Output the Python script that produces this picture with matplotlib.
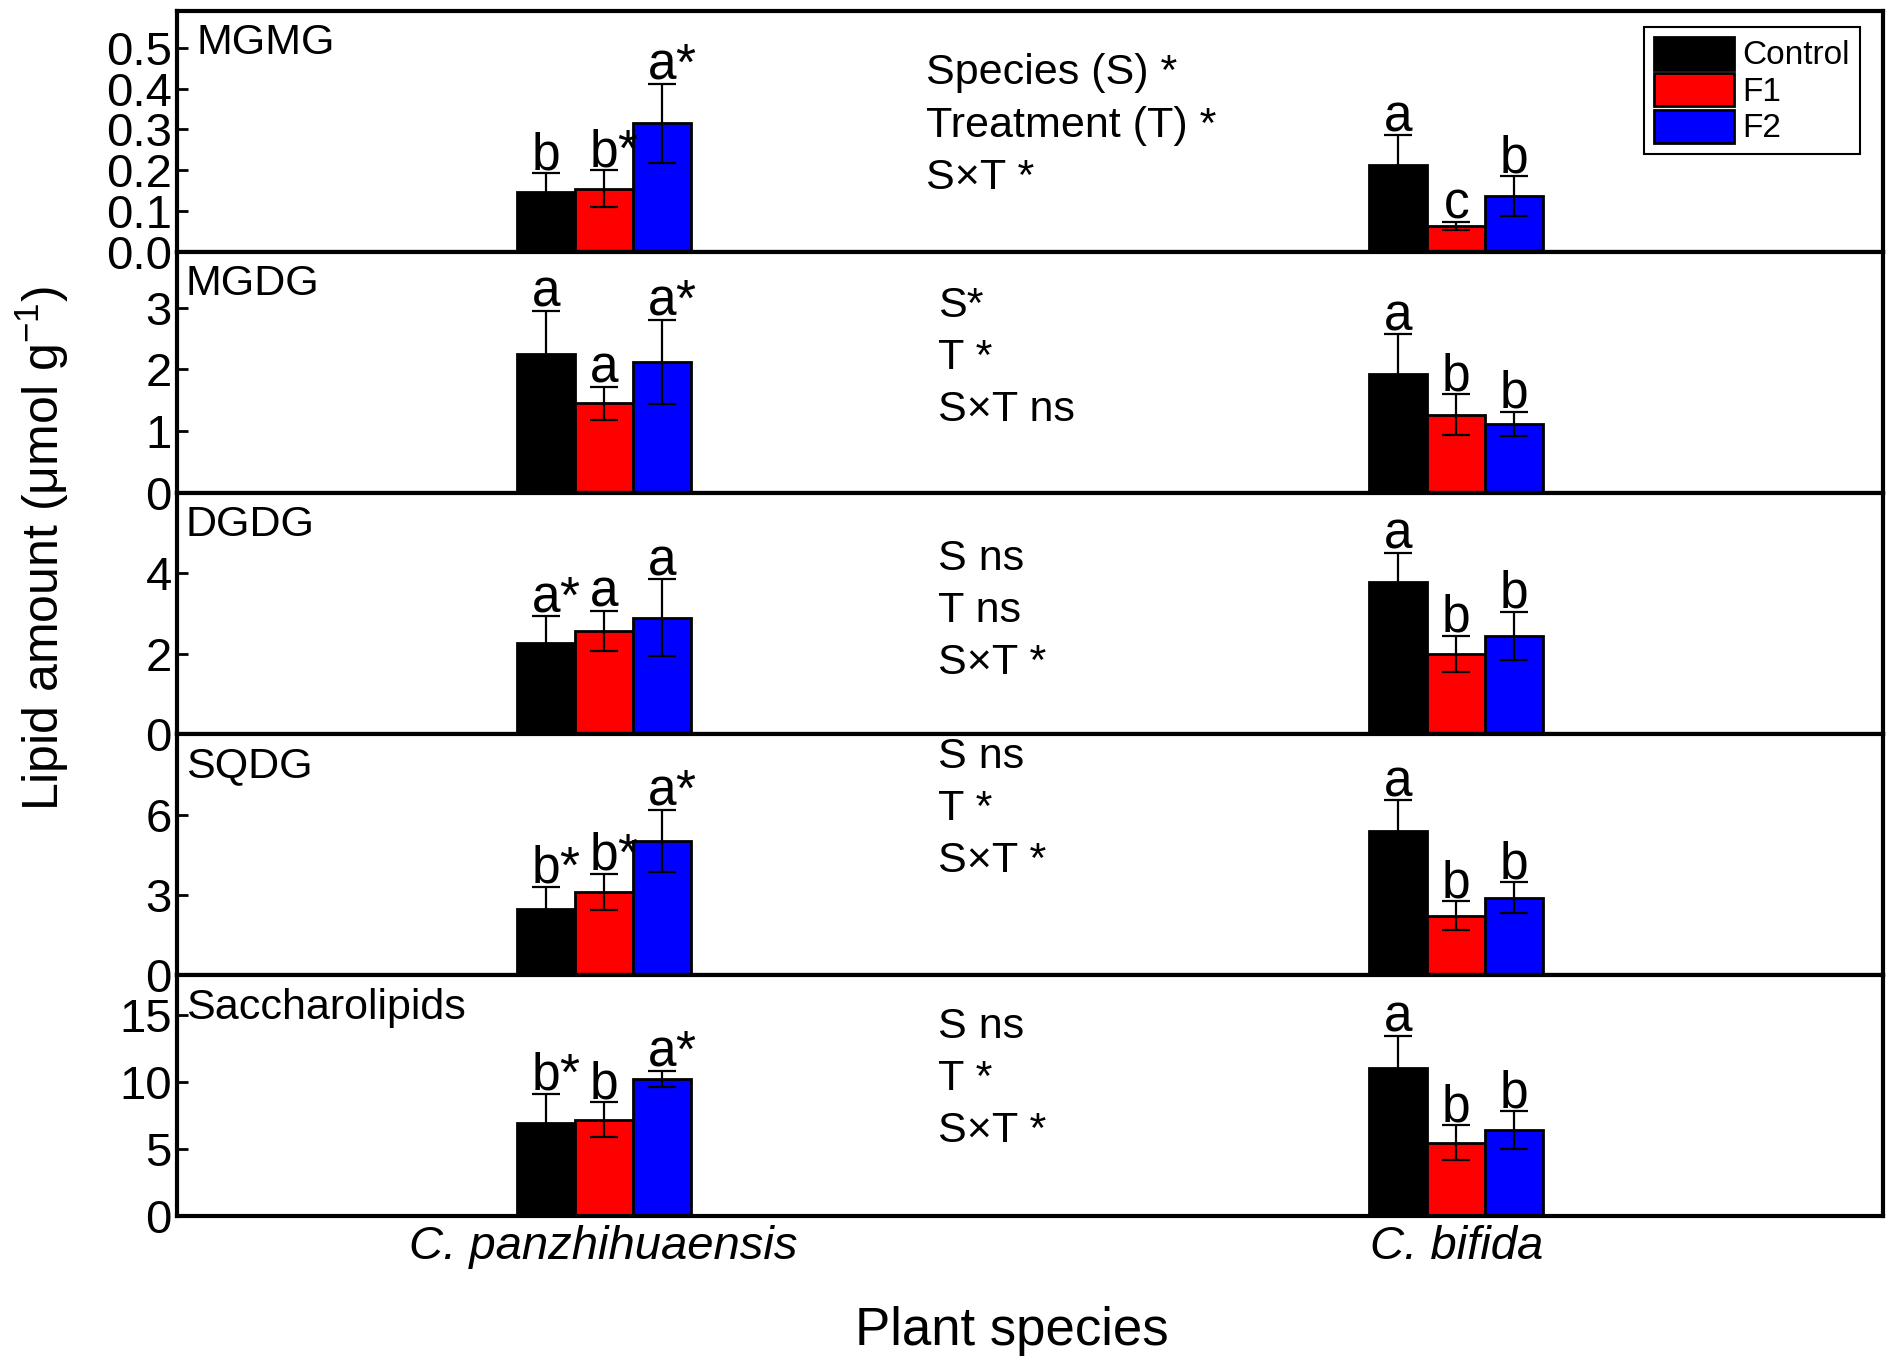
import numpy as np
import matplotlib
matplotlib.use('Agg')
import matplotlib.pyplot as plt

plt.rcParams['font.family'] = ['Liberation Sans', 'DejaVu Sans']
plt.rcParams['mathtext.fontset'] = 'custom'
plt.rcParams['mathtext.rm'] = 'Liberation Sans'

species = ['C. panzhihuaensis', 'C. bifida']
treatments = ['Control', 'F1', 'F2']
lipids = ['MGMG', 'MGDG', 'DGDG', 'SQDG', 'Saccharolipids']

# rows = species, cols = Control, F1, F2
means_mgmg = [[0.146, 0.155, 0.315], [0.214, 0.063, 0.137]]
sd_mgmg = [[0.047, 0.045, 0.097], [0.072, 0.010, 0.048]]
letters_mgmg = [['b', 'b*', 'a*'], ['a', 'c', 'b']]

means_mgdg = [[2.25, 1.45, 2.12], [1.92, 1.27, 1.12]]
sd_mgdg = [[0.70, 0.27, 0.68], [0.65, 0.33, 0.20]]
letters_mgdg = [['a', 'a', 'a*'], ['a', 'b', 'b']]

means_dgdg = [[2.27, 2.57, 2.90], [3.79, 2.00, 2.45]]
sd_dgdg = [[0.66, 0.50, 0.95], [0.72, 0.45, 0.60]]
letters_dgdg = [['a*', 'a', 'a'], ['a', 'b', 'b']]

means_sqdg = [[2.49, 3.11, 5.02], [5.38, 2.22, 2.89]]
sd_sqdg = [[0.80, 0.67, 1.16], [1.15, 0.54, 0.58]]
letters_sqdg = [['b*', 'b*', 'a*'], ['a', 'b', 'b']]

means_sacch = [[6.96, 7.20, 10.27], [11.07, 5.50, 6.43]]
sd_sacch = [[2.2, 1.3, 0.6], [2.4, 1.3, 1.4]]
letters_sacch = [['b*', 'b', 'a*'], ['a', 'b', 'b']]

stats_mgmg = ['Species (S) *', 'Treatment (T) *', 'S×T *']
stats_mgdg = ['S*', 'T *', 'S×T ns']
stats_dgdg = ['S ns', 'T ns', 'S×T *']
stats_sqdg = ['S ns', 'T *', 'S×T *']
stats_sacch = ['S ns', 'T *', 'S×T *']

all_means = [means_mgmg, means_mgdg, means_dgdg, means_sqdg, means_sacch]
all_sd = [sd_mgmg, sd_mgdg, sd_dgdg, sd_sqdg, sd_sacch]
all_letters = [letters_mgmg, letters_mgdg, letters_dgdg, letters_sqdg, letters_sacch]
all_stats = [stats_mgmg, stats_mgdg, stats_dgdg, stats_sqdg, stats_sacch]

ylims = [0.59, 3.9, 6.0, 9.0, 18.0]
yticks = [[0.0, 0.1, 0.2, 0.3, 0.4, 0.5], [0, 1, 2, 3], [0, 2, 4], [0, 3, 6], [0, 5, 10, 15]]
stat_x = [1.378, 1.392, 1.392, 1.392, 1.392]
stat_y0 = [0.695, 0.73, 0.68, 0.86, 0.74]
colors = ['#000000', '#ff0000', '#0000ff']

fig, axes = plt.subplots(5, 1, figsize=(18.92, 13.72), dpi=100, sharex=True)
fig.subplots_adjust(left=0.0938, right=0.995, top=0.992, bottom=0.1135, hspace=0)

x = np.arange(1, len(species) + 1)
w = 0.068

for i, ax in enumerate(axes):
    m = np.array(all_means[i])
    s = np.array(all_sd[i])
    bars = []
    for j in range(3):
        xpos = x + (j - 1) * w
        b = ax.bar(xpos, m[:, j], width=w, color=colors[j], edgecolor='black',
                   linewidth=2, label=treatments[j], zorder=2)
        bars.append(b)
        ax.errorbar(xpos, m[:, j], yerr=s[:, j], fmt='none', ecolor='black',
                    elinewidth=1.6, capsize=10, capthick=1.6, zorder=3)
        for k in range(len(species)):
            lab = all_letters[i][k][j]
            top = m[k, j] + s[k, j]
            ax.annotate(lab[0], (xpos[k], top), xytext=(0, 3), textcoords='offset points',
                        ha='center', va='baseline', fontsize=37, zorder=4)
            if '*' in lab:
                ax.annotate('*', (xpos[k], top), xytext=(10, 3), textcoords='offset points',
                            ha='left', va='baseline', fontsize=37, zorder=4)

    ax.set_xlim(0.5, 2.5)
    ax.set_ylim(0, ylims[i])
    ax.set_yticks(yticks[i])
    if i == 0:
        ax.set_yticklabels(['%.1f' % v for v in yticks[i]])
    ax.tick_params(axis='both', direction='in', length=8, width=2, labelsize=34)
    ax.tick_params(axis='y', pad=4)
    for sp in ax.spines.values():
        sp.set_linewidth(3)

    ax.text(0.011 if i == 0 else 0.005, 0.82, lipids[i], transform=ax.transAxes,
            fontsize=31, va='baseline', ha='left')

    for n, line in enumerate(all_stats[i]):
        ax.text(stat_x[i], stat_y0[i] - n * 0.216, line,
                transform=ax.get_xaxis_transform(), fontsize=31, va='baseline', ha='left')

    if i == 0:
        leg = ax.legend(handles=bars, loc='upper right', bbox_to_anchor=(0.9866, 0.935),
                        borderaxespad=0, fontsize=24, handlelength=2.4, handleheight=1.15,
                        labelspacing=0.05, handletextpad=0.25, borderpad=0.3,
                        fancybox=False, framealpha=1)
        leg.get_frame().set_edgecolor('black')
        leg.get_frame().set_linewidth(1.5)

axes[-1].set_xticks(x)
axes[-1].set_xticklabels(species, fontstyle='italic')
axes[-1].tick_params(axis='x', pad=6)

fig.text(0.0223, 0.60, 'Lipid amount (μmol g$^{\\mathrm{-1}}$)', rotation=90, ha='center',
         va='center', fontsize=36)
fig.text(0.535, 0.02, 'Plant species', ha='center', va='baseline', fontsize=38)

fig.savefig('out.png', dpi=100)
